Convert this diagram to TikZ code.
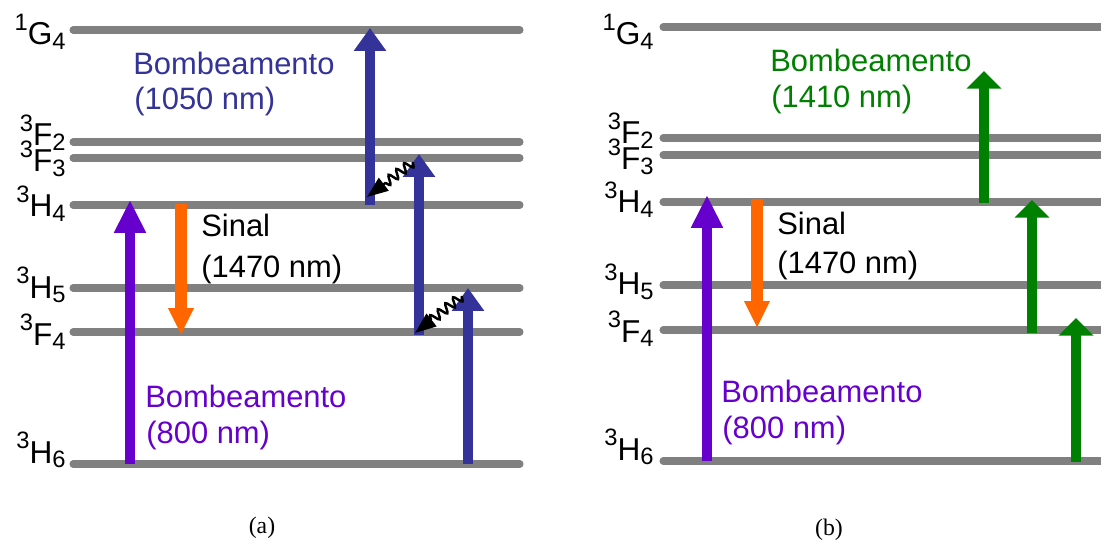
\documentclass[tikz,border=0pt]{standalone}
\usepackage{fontspec}
\setmainfont{Liberation Sans}
\newfontfamily\capfont{Liberation Serif}
\usetikzlibrary{arrows.meta,decorations.pathmorphing}

\definecolor{lvlgray}{HTML}{808080}
\definecolor{pumppurple}{HTML}{6600CC}
\definecolor{pumpblue}{HTML}{333399}
\definecolor{pumpgreen}{HTML}{008000}
\definecolor{sigorange}{HTML}{FF6600}

% term symbol: ^{mult}L_{J}
\newcommand{\term}[3]{\smash{\raisebox{8.3pt}{\fontsize{13.5}{13.5}\selectfont #1}}#2\smash{\raisebox{-2.4pt}{\fontsize{13.5}{13.5}\selectfont #3}}}

\tikzset{
  level/.style={draw=lvlgray, line width=4pt, line cap=round},
  termlbl/.style={anchor=base east, inner sep=0pt, font=\fontsize{18}{18}\selectfont},
  txt/.style={anchor=base west, inner sep=0pt, font=\fontsize{17.6}{17.6}\selectfont},
  purpleup/.style={draw=pumppurple, line width=6.2pt, -{Triangle[width=17pt,length=18.7pt]}},
  orangedown/.style={draw=sigorange, line width=6.5pt, -{Triangle[width=13.6pt,length=15.3pt]}},
  blueup/.style={draw=pumpblue, line width=5.7pt, -{Triangle[width=17.6pt,length=13pt]}},
  greenup/.style={draw=pumpgreen, line width=6.2pt, -{Triangle[width=19.3pt,length=10pt]}},
  relax/.style={draw=black, line width=1.4pt, -{Triangle[width=9pt,length=12pt]},
    decorate, decoration={snake, amplitude=2.6pt, segment length=5.5pt, post length=11pt}}
}

\begin{document}
\begin{tikzpicture}[x=0.02cm, y=-0.02cm]
  \useasboundingbox (0,0) rectangle (1101,540);

  % energy levels (a)
  \foreach \n/\y in {G4/30,F2/142,F3/158,H4/205,H5/288,F4/332,H6/464}{
    \coordinate (a\n l) at (73,\y);
    \coordinate (a\n r) at (520,\y);
    \draw[level] (a\n l) -- (a\n r);
  }
  % energy levels (b)
  \foreach \n/\y in {G4/27,F2/138,F3/155,H4/202,H5/285,F4/330,H6/461}{
    \coordinate (b\n l) at (663,\y);
    \coordinate (b\n r) at (1106,\y);
    \draw[level] (b\n l) -- (b\n r);
  }

  % labels (a)
  \node[termlbl] (aG4t) at (66,45) {\term{1}{G}{4}};
  \node[termlbl] (aF2t) at (66,146) {\term{3}{F}{2}};
  \node[termlbl] (aF3t) at (66,172) {\term{3}{F}{3}};
  \node[termlbl] (aH4t) at (66,217) {\term{3}{H}{4}};
  \node[termlbl] (aH5t) at (66,298) {\term{3}{H}{5}};
  \node[termlbl] (aF4t) at (66,345) {\term{3}{F}{4}};
  \node[termlbl] (aH6t) at (66,463) {\term{3}{H}{6}};
  % labels (b)
  \node[termlbl] (bG4t) at (654,45) {\term{1}{G}{4}};
  \node[termlbl] (bF2t) at (654,144) {\term{3}{F}{2}};
  \node[termlbl] (bF3t) at (654,170) {\term{3}{F}{3}};
  \node[termlbl] (bH4t) at (654,213) {\term{3}{H}{4}};
  \node[termlbl] (bH5t) at (654,295) {\term{3}{H}{5}};
  \node[termlbl] (bF4t) at (654,342) {\term{3}{F}{4}};
  \node[termlbl] (bH6t) at (654,460) {\term{3}{H}{6}};

  % arrow ends (a)
  \coordinate (ap0) at (130,464);  \coordinate (ap1) at (130,200);
  \coordinate (as0) at (181,204);  \coordinate (as1) at (181,335);
  \coordinate (ab10) at (370,205); \coordinate (ab11) at (370,28);
  \coordinate (ab20) at (419,335); \coordinate (ab21) at (419,154);
  \coordinate (ab30) at (468,464); \coordinate (ab31) at (468,288);
  \coordinate (aw10) at (413,162); \coordinate (aw11) at (367,197);
  \coordinate (aw20) at (462,296); \coordinate (aw21) at (415,333);
  % arrow ends (b)
  \coordinate (bp0) at (707,461);  \coordinate (bp1) at (707,195);
  \coordinate (bs0) at (757,199);  \coordinate (bs1) at (757,328);
  \coordinate (bg10) at (984,203); \coordinate (bg11) at (984,71);
  \coordinate (bg20) at (1032,333); \coordinate (bg21) at (1032,200);
  \coordinate (bg30) at (1076,462); \coordinate (bg31) at (1076,318);

  \path[purpleup] (ap0) -- (ap1);
  \path[orangedown] (as0) -- (as1);
  \path[blueup] (ab10) -- (ab11);
  \path[blueup] (ab20) -- (ab21);
  \path[blueup] (ab30) -- (ab31);
  \path[relax] (aw10) -- (aw11);
  \path[relax] (aw20) -- (aw21);

  \path[purpleup] (bp0) -- (bp1);
  \path[orangedown] (bs0) -- (bs1);
  \path[greenup] (bg10) -- (bg11);
  \path[greenup] (bg20) -- (bg21);
  \path[greenup] (bg30) -- (bg31);

  % texts (a)
  \node[txt, text=pumpblue] (abomb) at (133,75) {Bombeamento};
  \node[txt, text=pumpblue] (abombnm) at (134,110) {(1050 nm)};
  \node[txt] (asig) at (201,237) {Sinal};
  \node[txt] (asignm) at (201,277) {(1470 nm)};
  \node[txt, text=pumppurple] (apump) at (145,407) {Bombeamento};
  \node[txt, text=pumppurple] (apumpnm) at (146,443) {(800 nm)};
  % texts (b)
  \node[txt, text=pumpgreen] (bbomb) at (770,72) {Bombeamento};
  \node[txt, text=pumpgreen] (bbombnm) at (771,108) {(1410 nm)};
  \node[txt] (bsig) at (777,235) {Sinal};
  \node[txt] (bsignm) at (777,274) {(1470 nm)};
  \node[txt, text=pumppurple] (bpump) at (721,402) {Bombeamento};
  \node[txt, text=pumppurple] (bpumpnm) at (722,438) {(800 nm)};

  % captions
  \node[anchor=base, inner sep=0pt, font=\capfont\fontsize{13.5}{13.5}\selectfont] (capa) at (262,533) {(a)};
  \node[anchor=base, inner sep=0pt, font=\capfont\fontsize{13.5}{13.5}\selectfont] (capb) at (829,535) {(b)};
\end{tikzpicture}
\end{document}
